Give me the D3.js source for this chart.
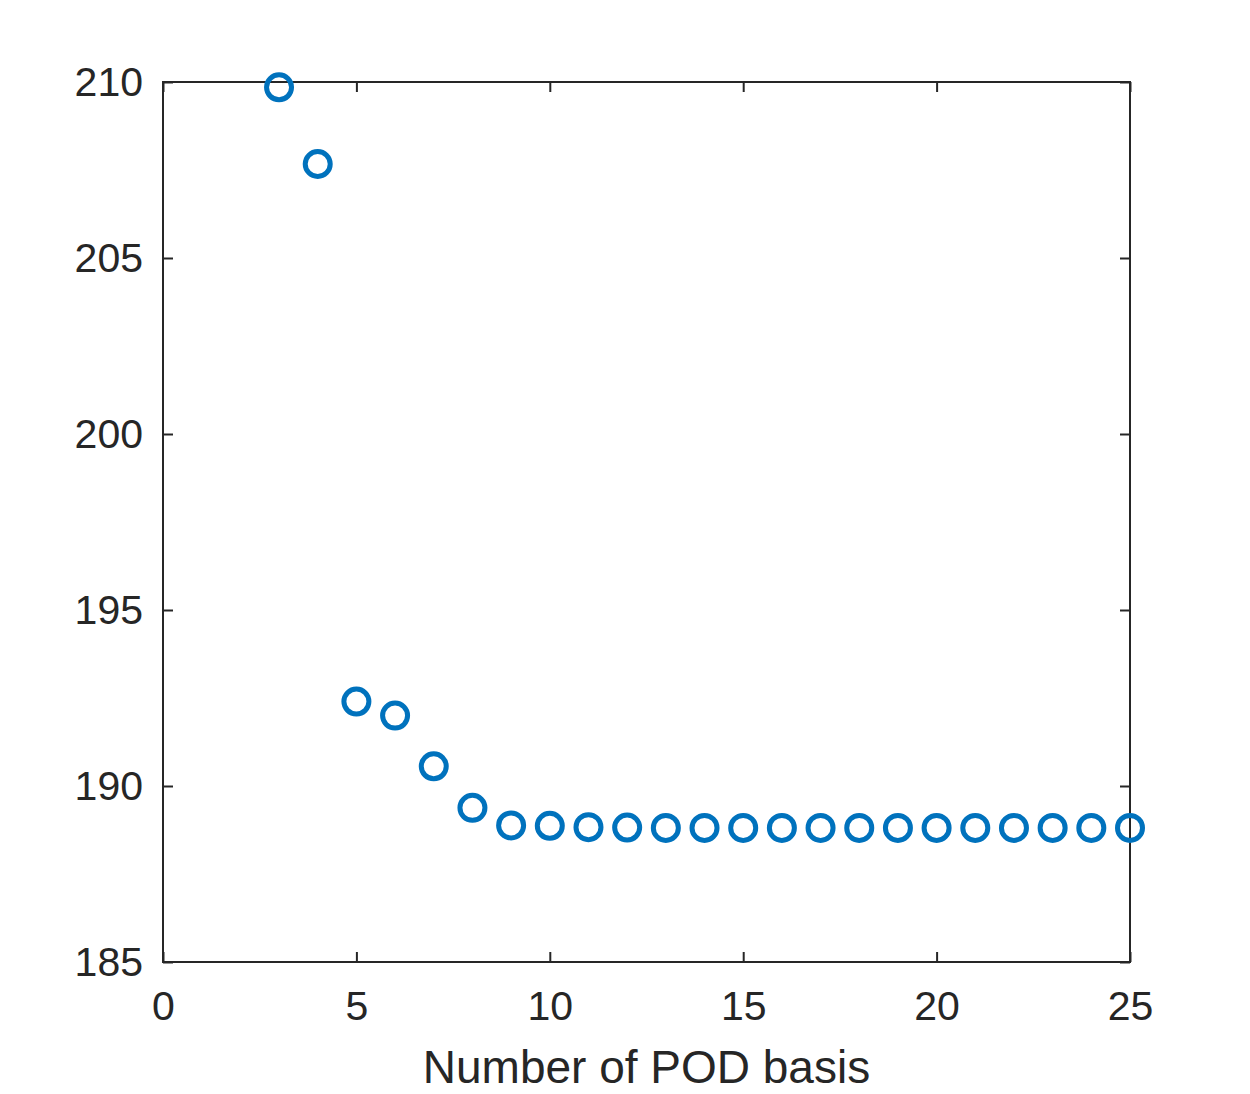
<!DOCTYPE html>
<html>
<head>
<meta charset="utf-8">
<script src="https://cdn.jsdelivr.net/npm/d3@7"></script>
<style>
  body { margin: 0; background: #fff; }
  text { font-family: "Liberation Sans", Arial, sans-serif; fill: #262626; }
</style>
</head>
<body>
<svg id="chart"></svg>
<script>
// number of POD basis vs value
var basisCount = [3, 4, 5, 6, 7, 8, 9, 10, 11, 12, 13, 14, 15, 16, 17, 18, 19, 20, 21, 22, 23, 24, 25]
var values = [209.85, 207.67, 192.40, 192.00, 190.56, 189.38, 188.88, 188.87, 188.83,
              188.82, 188.81, 188.81, 188.81, 188.81, 188.81, 188.81, 188.81, 188.81,
              188.81, 188.81, 188.81, 188.81, 188.81]
var xTicks = [0, 5, 10, 15, 20, 25]
var yTicks = [185, 190, 195, 200, 205, 210]

var width = 1250
var height = 1094
var plotLeft = 163, plotRight = 1130, plotTop = 82, plotBottom = 962

var svg = d3.select('#chart')
            .attr('width', width)
            .attr('height', height)

var xScale = d3.scaleLinear().domain([0, 25]).range([plotLeft, plotRight])
var yScale = d3.scaleLinear().domain([185, 210]).range([plotBottom, plotTop])

var axisColor = '#262626'

// ticks on all four sides, pointing inwards
var xAxis = d3.axisBottom(xScale).tickValues(xTicks).tickSizeInner(-10).tickSizeOuter(0).tickPadding(29)
var yAxis = d3.axisLeft(yScale).tickValues(yTicks).tickSizeInner(-10).tickSizeOuter(0).tickPadding(20)

var gx = svg.append('g').attr('transform', 'translate(0,' + plotBottom + ')').call(xAxis)
var gy = svg.append('g').attr('transform', 'translate(' + plotLeft + ',0)').call(yAxis)

var gxTop = svg.append('g').attr('transform', 'translate(0,' + plotTop + ')')
               .call(d3.axisTop(xScale).tickValues(xTicks).tickSizeInner(-10).tickSizeOuter(0).tickFormat(''))
var gyRight = svg.append('g').attr('transform', 'translate(' + plotRight + ',0)')
                 .call(d3.axisRight(yScale).tickValues(yTicks).tickSizeInner(-10).tickSizeOuter(0).tickFormat(''))

;[gx, gy, gxTop, gyRight].forEach(function(g){
  g.select('.domain').remove()
  g.selectAll('.tick line').attr('stroke', axisColor).attr('stroke-width', 2)
  g.selectAll('.tick text').style('font-size', '41px').attr('fill', axisColor)
})

svg.append('rect')
   .attr('x', plotLeft)
   .attr('y', plotTop)
   .attr('width', plotRight - plotLeft)
   .attr('height', plotBottom - plotTop)
   .attr('fill', 'none')
   .attr('stroke', axisColor)
   .attr('stroke-width', 2)

svg.append('text')
   .attr('x', (plotLeft + plotRight) / 2)
   .attr('y', 1083)
   .attr('text-anchor', 'middle')
   .style('font-size', '46px')
   .text('Number of POD basis')

svg.append('g')
   .selectAll('circle')
   .data(basisCount)
   .enter()
   .append('circle')
   .attr('cx', function(d){ return xScale(d) })
   .attr('cy', function(d, i){ return yScale(values[i]) })
   .attr('r', 12.5)
   .attr('fill', 'none')
   .attr('stroke', '#0072BD')
   .attr('stroke-width', 5)
</script>
</body>
</html>
